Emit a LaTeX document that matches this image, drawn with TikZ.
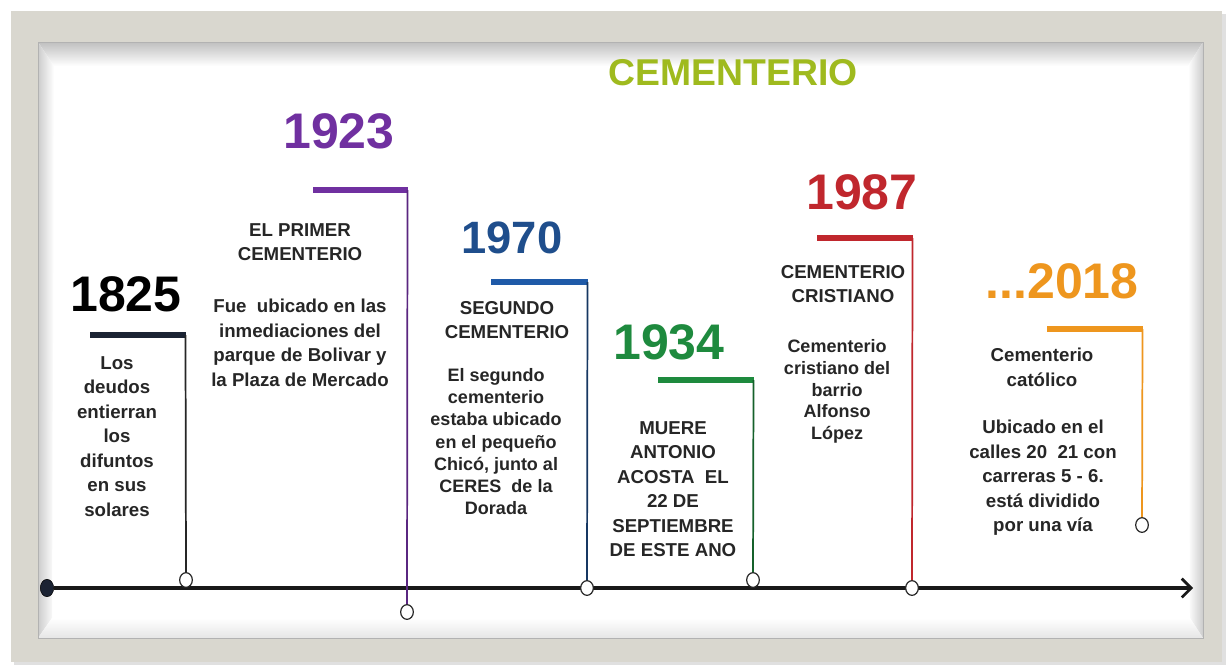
\documentclass[tikz,border=0pt]{standalone}
\usepackage{fontspec}
\setmainfont{Liberation Sans}
\usetikzlibrary{arrows.meta,shapes.geometric}
\definecolor{frame}{HTML}{D9D7CF}
\definecolor{txt}{HTML}{262626}
\definecolor{cA}{HTML}{1B2333}
\definecolor{cB}{HTML}{7030A0}
\definecolor{cC}{HTML}{1F4E8C}
\definecolor{cCbar}{HTML}{1F5AA8}
\definecolor{cD}{HTML}{1E8A3E}
\definecolor{cE}{HTML}{C0272D}
\definecolor{cF}{HTML}{EE961E}
\definecolor{ttl}{HTML}{9FBA1E}
\begin{document}
\begin{tikzpicture}[x=0.75pt,y=-0.75pt,
  yearlbl/.style={font=\bfseries\fontsize{37.5}{40}\selectfont, inner sep=0pt},
  barline/.style={line width=5.2pt},
  stemline/.style={line width=1.3pt},
  endc/.style={ellipse, draw=black!85, fill=white, line width=0.9pt, minimum width=9.5pt, minimum height=11pt, inner sep=0pt},
  bodytxt/.style={align=center, text=txt, inner sep=0pt, font=\bfseries\fontsize{14}{18.4}\selectfont},
  bodytight/.style={bodytxt, font=\bfseries\fontsize{13.5}{16.7}\selectfont},
]
\useasboundingbox (0,0) rectangle (1226,665);
% background frame
\fill[white] (0,0) rectangle (1226,665);
\fill[black!12] (14,14) rectangle (1226,665);
\fill[frame] (11,11) rectangle (1222,662);
\fill[white] (38,42) rectangle (1203,638);
\shade[top color=black!25, bottom color=white] (38,42) -- (1203,42) -- (1188,66) -- (54,66) -- cycle;
\shade[left color=black!20, right color=white] (38,42) -- (54,66) -- (52,618) -- (38,638) -- cycle;
\shade[right color=black!20, left color=white] (1203,42) -- (1188,66) -- (1190,618) -- (1203,638) -- cycle;
\shade[bottom color=black!10, top color=white] (38,638) -- (52,618) -- (1190,618) -- (1203,638) -- cycle;
\draw[black!30, line width=0.6pt] (38,42) rectangle (1203,638);

% title
\node[font=\bfseries\fontsize{28}{30}\selectfont, text=ttl, inner sep=0pt] (title) at (733,73) {CEMENTERIO};

% axis
\node[ellipse, fill=cA, draw=black, minimum width=10pt, minimum height=13pt, inner sep=0pt] (start) at (47,588) {};
\coordinate (tip) at (1193,588);
\draw[line width=3pt, black!90, -{Straight Barb[length=7pt,width=14pt,line width=2pt]}] (start) -- (tip);

% 1825
\node[yearlbl, text=black] (y1) at (126,294) {1825};
\coordinate (b1l) at (90,335);
\coordinate (b1r) at (186,335);
\node[endc] (c1) at (186,580) {};
\draw[barline, draw=cA] (b1l) -- (b1r);
\draw[stemline, draw=black!85] (185.5,335) -- (c1);
\node[bodytxt, anchor=north] (t1) at (117,356) {Los\\deudos\\entierran\\los\\difuntos\\en sus\\solares};

% 1923
\node[yearlbl, text=cB] (y2) at (339,131) {1923};
\coordinate (b2l) at (313,190);
\coordinate (b2r) at (408,190);
\node[endc] (c2) at (407,612) {};
\draw[barline, draw=cB] (b2l) -- (b2r);
\draw[stemline, draw=cB!80!black] (407.5,190) -- (c2);
\node[bodytxt, anchor=north] (h2) at (300,223) {EL PRIMER\\CEMENTERIO};
\node[bodytxt, anchor=north] (t2) at (300,299) {Fue\ \ ubicado en las\\inmediaciones del\\parque de Bolivar y\\la Plaza de Mercado};

% 1970
\node[yearlbl, text=cC, font=\bfseries\fontsize{34}{36}\selectfont] (y3) at (512,238) {1970};
\coordinate (b3l) at (491,282);
\coordinate (b3r) at (588,282);
\node[endc] (c3) at (587,588) {};
\draw[barline, draw=cCbar] (b3l) -- (b3r);
\draw[stemline, draw=cC!70!black] (587.5,282) -- (c3);
\node[bodytxt, anchor=north] (h3) at (507,301) {SEGUNDO\\CEMENTERIO};
\node[bodytight, anchor=north] (t3) at (496,368) {El segundo\\cementerio\\estaba ubicado\\en el pequeño\\Chicó, junto al\\CERES\ \ de la\\Dorada};

% 1934
\node[yearlbl, text=cD] (y4) at (669,342) {1934};
\coordinate (b4l) at (658,380);
\coordinate (b4r) at (754,380);
\node[endc] (c4) at (753,580) {};
\draw[barline, draw=cD] (b4l) -- (b4r);
\draw[stemline, draw=cD!70!black] (753.5,380) -- (c4);
\node[bodytxt, anchor=north] (t4) at (673,421) {MUERE\\ANTONIO\\ACOSTA\ \ EL\\22 DE\\SEPTIEMBRE\\DE\ ESTE\ ANO};

% 1987
\node[yearlbl, text=cE] (y5) at (862,192) {1987};
\coordinate (b5l) at (817,238);
\coordinate (b5r) at (913,238);
\node[endc] (c5) at (912,588) {};
\draw[barline, draw=cE] (b5l) -- (b5r);
\draw[stemline, draw=cE] (912.5,238) -- (c5);
\node[bodytxt, anchor=north] (h5) at (843,265) {CEMENTERIO\\CRISTIANO};
\node[bodytxt, anchor=north, font=\bfseries\fontsize{13.5}{16.4}\selectfont] (t5) at (837,339) {Cementerio\\cristiano del\\barrio\\Alfonso\\López};

% 2018
\node[yearlbl, text=cF] (y6) at (1062,281) {...2018};
\coordinate (b6l) at (1047,329);
\coordinate (b6r) at (1143,329);
\node[endc] (c6) at (1142,525) {};
\draw[barline, draw=cF] (b6l) -- (b6r);
\draw[stemline, draw=cF] (1142.5,329) -- (c6);
\node[bodytxt, anchor=north] (h6) at (1042,348) {Cementerio\\católico};
\node[bodytxt, anchor=north] (t6) at (1043,420) {Ubicado\ en el\\calles 20\ \ 21 con\\carreras 5 - 6.\\está dividido\\por una vía};
\end{tikzpicture}
\end{document}
